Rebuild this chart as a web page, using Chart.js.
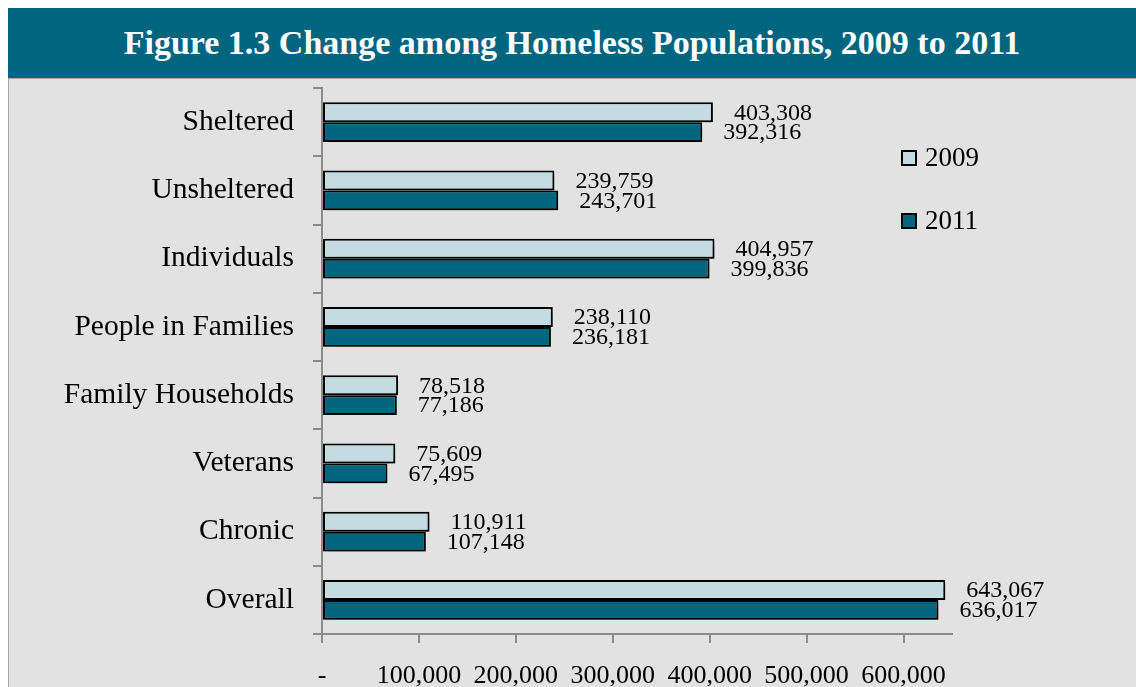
<!DOCTYPE html>
<html>
<head>
<meta charset="utf-8">
<script src="https://cdn.jsdelivr.net/npm/chart.js@4.4.1/dist/chart.umd.min.js"></script>
<style>
  html, body { margin: 0; padding: 0; background: #fff; }
  body { width: 1136px; height: 687px; position: relative; overflow: hidden; }
  .title {
    position: absolute; left: 8px; top: 8px; width: 1128px; height: 70px;
    background: #00667f; color: #fff;
    font: bold 34px "Liberation Serif", serif;
    display: flex; align-items: center; justify-content: center;
  }
  .panel {
    position: absolute; left: 8px; top: 78px; width: 1127px; height: 609px;
    background: #e2e2e2; border-left: 1px solid #a8a8a8; border-top: 1px solid #a8a8a8;
  }
  #chart { position: absolute; left: 0; top: 0; }
</style>
</head>
<body>
<div class="title">Figure 1.3 Change among Homeless Populations, 2009 to 2011</div>
<div class="panel"></div>
<canvas id="chart" width="1136" height="687"></canvas>
<script>
// Data
const categories = ['Sheltered', 'Unsheltered', 'Individuals', 'People in Families',
  'Family Households', 'Veterans', 'Chronic', 'Overall'];
const values2009 = [403308, 239759, 404957, 238110, 78518, 75609, 110911, 643067];
const values2011 = [392316, 243701, 399836, 236181, 77186, 67495, 107148, 636017];
const seriesNames = ['2009', '2011'];
const xTickValues = [0, 100000, 200000, 300000, 400000, 500000, 600000];
const axisMax = 650000;

const serif = '"Liberation Serif", serif';
const fmt = v => v.toLocaleString('en-US');

// soft drop shadow under the bars
const barShadow = {
  id: 'barShadow',
  beforeDatasetsDraw(chart) {
    const ctx = chart.ctx;
    ctx.save();
    ctx.shadowColor = 'rgba(0,0,0,0.4)';
    ctx.shadowBlur = 7;
    ctx.shadowOffsetX = 2;
    ctx.shadowOffsetY = 5;
  },
  afterDatasetsDraw(chart) {
    chart.ctx.restore();
  }
};

// value labels right of each bar
const barLabels = {
  id: 'barLabels',
  afterDatasetsDraw(chart) {
    const ctx = chart.ctx;
    ctx.save();
    ctx.font = '24px ' + serif;
    ctx.fillStyle = '#000';
    ctx.textAlign = 'left';
    ctx.textBaseline = 'middle';
    chart.data.datasets.forEach((ds, di) => {
      chart.getDatasetMeta(di).data.forEach((bar, i) => {
        ctx.fillText(fmt(ds.data[i]), bar.x + 21, bar.y + 1);
      });
    });
    ctx.restore();
  }
};

// legend drawn at the right side
const sideLegend = {
  id: 'sideLegend',
  afterDraw(chart) {
    const ctx = chart.ctx;
    ctx.save();
    ctx.font = '27px ' + serif;
    ctx.textBaseline = 'middle';
    chart.data.datasets.forEach((ds, i) => {
      const y = 158 + i * 63;
      ctx.fillStyle = ds.backgroundColor;
      ctx.fillRect(902, y - 7, 14, 14);
      ctx.lineWidth = 2;
      ctx.strokeStyle = '#000';
      ctx.strokeRect(902, y - 7, 14, 14);
      ctx.fillStyle = '#000';
      ctx.fillText(ds.label, 925, y + 1);
    });
    ctx.restore();
  }
};

new Chart(document.getElementById('chart'), {
  type: 'bar',
  data: {
    labels: categories,
    datasets: [
      { label: seriesNames[0], data: values2009, backgroundColor: '#c2dce2',
        borderColor: '#000', borderWidth: 2, borderSkipped: false },
      { label: seriesNames[1], data: values2011, backgroundColor: '#00667f',
        borderColor: '#000', borderWidth: 2, borderSkipped: false }
    ]
  },
  options: {
    indexAxis: 'y',
    responsive: false,
    animation: false,
    events: [],
    categoryPercentage: 0.58,
    barPercentage: 1.0,
    layout: { padding: { left: 0, top: 88, right: 184, bottom: 0 } },
    plugins: { legend: { display: false }, title: { display: false }, tooltip: { enabled: false } },
    scales: {
      x: {
        min: 0, max: axisMax,
        afterBuildTicks: s => { s.ticks = xTickValues.map(v => ({ value: v })); },
        afterFit: s => { s.height = 53; },
        ticks: {
          autoSkip: false,
          maxRotation: 0,
          padding: 18,
          color: '#000',
          font: { family: serif, size: 26 },
          callback: v => v === 0 ? '-' : fmt(v)
        },
        grid: { drawOnChartArea: false, tickLength: 9, color: '#8c8c8c', lineWidth: 2 },
        border: { color: '#8c8c8c', width: 2 }
      },
      y: {
        afterFit: s => { s.width = 322; },
        ticks: { padding: 19, color: '#000', font: { family: serif, size: 29.5 } },
        grid: { drawOnChartArea: false, offset: true, tickLength: 9, color: '#8c8c8c', lineWidth: 2 },
        border: { color: '#8c8c8c', width: 2 }
      }
    }
  },
  plugins: [barShadow, barLabels, sideLegend]
});
</script>
</body>
</html>
